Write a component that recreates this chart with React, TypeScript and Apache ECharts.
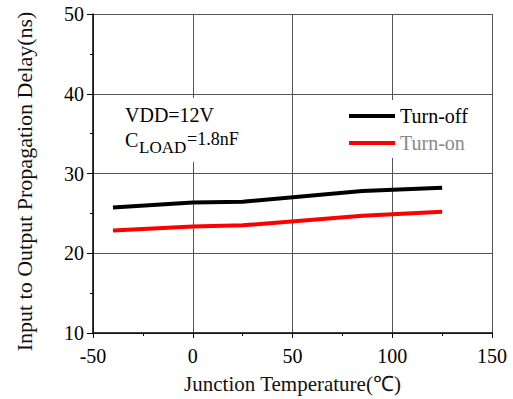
import React, { useEffect, useRef } from "react";
import * as echarts from "echarts";

const temperatures = [-40, 0, 25, 85, 125];
const turnOff = [25.75, 26.35, 26.45, 27.8, 28.2];
const turnOn = [22.85, 23.35, 23.5, 24.7, 25.2];
const seriesNames = ["Turn-off", "Turn-on"];
const xAxisTitle = "Junction Temperature(℃)";
const yAxisTitle = "Input to Output Propagation Delay(ns)";

const FONT = "Liberation Serif";

export default function App() {
  const ref = useRef<HTMLDivElement>(null);
  useEffect(() => {
    if (!ref.current) return;
    const chart = echarts.init(ref.current, undefined, { renderer: "svg" });
    const pairs = (ys: number[]) => temperatures.map((t, i) => [t, ys[i]]);
    chart.setOption({
      animation: false,
      backgroundColor: "#ffffff",
      textStyle: { fontFamily: FONT },
      grid: { left: 93, top: 14, right: 21, bottom: 59, containLabel: false },
      xAxis: {
        type: "value",
        min: -50,
        max: 150,
        interval: 50,
        name: xAxisTitle,
        nameLocation: "middle",
        nameGap: 40,
        nameTextStyle: { fontFamily: FONT, fontSize: 21, color: "#111" },
        axisLine: { onZero: false, lineStyle: { color: "#000", width: 1.5 } },
        axisTick: { show: true, inside: false, length: 5, lineStyle: { color: "#000", width: 1 } },
        minorTick: { show: true, splitNumber: 2, length: 3, lineStyle: { color: "#000", width: 1 } },
        axisLabel: { fontFamily: FONT, fontSize: 20, color: "#000", margin: 13 },
        splitLine: { show: true, lineStyle: { color: "#555", width: 1 } },
      },
      yAxis: {
        type: "value",
        min: 10,
        max: 50,
        interval: 10,
        name: yAxisTitle,
        nameLocation: "middle",
        nameGap: 58,
        nameRotate: 90,
        nameTextStyle: { fontFamily: FONT, fontSize: 22, color: "#111", padding: [0, 16, 0, 0] },
        axisLine: { show: true, onZero: false, lineStyle: { color: "#000", width: 1.5 } },
        axisTick: { show: true, inside: false, length: 6, lineStyle: { color: "#000", width: 1 } },
        minorTick: { show: true, splitNumber: 2, length: 3, lineStyle: { color: "#000", width: 1 } },
        axisLabel: { fontFamily: FONT, fontSize: 20, color: "#000", margin: 9 },
        splitLine: { show: true, lineStyle: { color: "#555", width: 1 } },
      },
      legend: {
        show: true,
        orient: "vertical",
        left: 344,
        top: 100,
        padding: [6, 6, 5, 5],
        itemGap: 7,
        itemWidth: 46,
        itemHeight: 4,
        icon: "rect",
        backgroundColor: "#ffffff",
        textStyle: { fontFamily: FONT, fontSize: 20 },
        data: [
          { name: seriesNames[0], textStyle: { color: "#000", fontFamily: FONT, fontSize: 20 } },
          { name: seriesNames[1], textStyle: { color: "#888", fontFamily: FONT, fontSize: 20 } },
        ],
      },
      series: [
        {
          name: seriesNames[0],
          type: "line",
          data: pairs(turnOff),
          showSymbol: false,
          symbol: "none",
          lineStyle: { color: "#000", width: 4 },
          itemStyle: { color: "#000" },
          z: 5,
        },
        {
          name: seriesNames[1],
          type: "line",
          data: pairs(turnOn),
          showSymbol: false,
          symbol: "none",
          lineStyle: { color: "#ff0000", width: 4 },
          itemStyle: { color: "#ff0000" },
          z: 5,
        },
      ],
      graphic: [
        {
          type: "rect",
          z: 50,
          shape: { x: 117, y: 98, width: 132, height: 64 },
          style: { fill: "#ffffff" },
        },
        {
          type: "text",
          z: 51,
          x: 125,
          y: 115,
          style: { text: "VDD=12V", fontFamily: FONT, fontSize: 20, fill: "#000", verticalAlign: "middle", align: "left" },
        },
        {
          type: "text",
          z: 51,
          x: 125,
          y: 140,
          style: { text: "C", fontFamily: FONT, fontSize: 20, fill: "#000", verticalAlign: "middle", align: "left" },
        },
        {
          type: "text",
          z: 51,
          x: 139,
          y: 147,
          style: { text: "LOAD", fontFamily: FONT, fontSize: 17, fill: "#000", verticalAlign: "middle", align: "left" },
        },
        {
          type: "text",
          z: 51,
          x: 187,
          y: 139,
          style: { text: "=1.8nF", fontFamily: FONT, fontSize: 18, fill: "#000", verticalAlign: "middle", align: "left" },
        },
      ],
    });
    return () => chart.dispose();
  }, []);
  return (
    <div
      ref={ref}
      style={{ position: "absolute", left: 0, top: 0, width: 513, height: 399, background: "#fff" }}
    />
  );
}
